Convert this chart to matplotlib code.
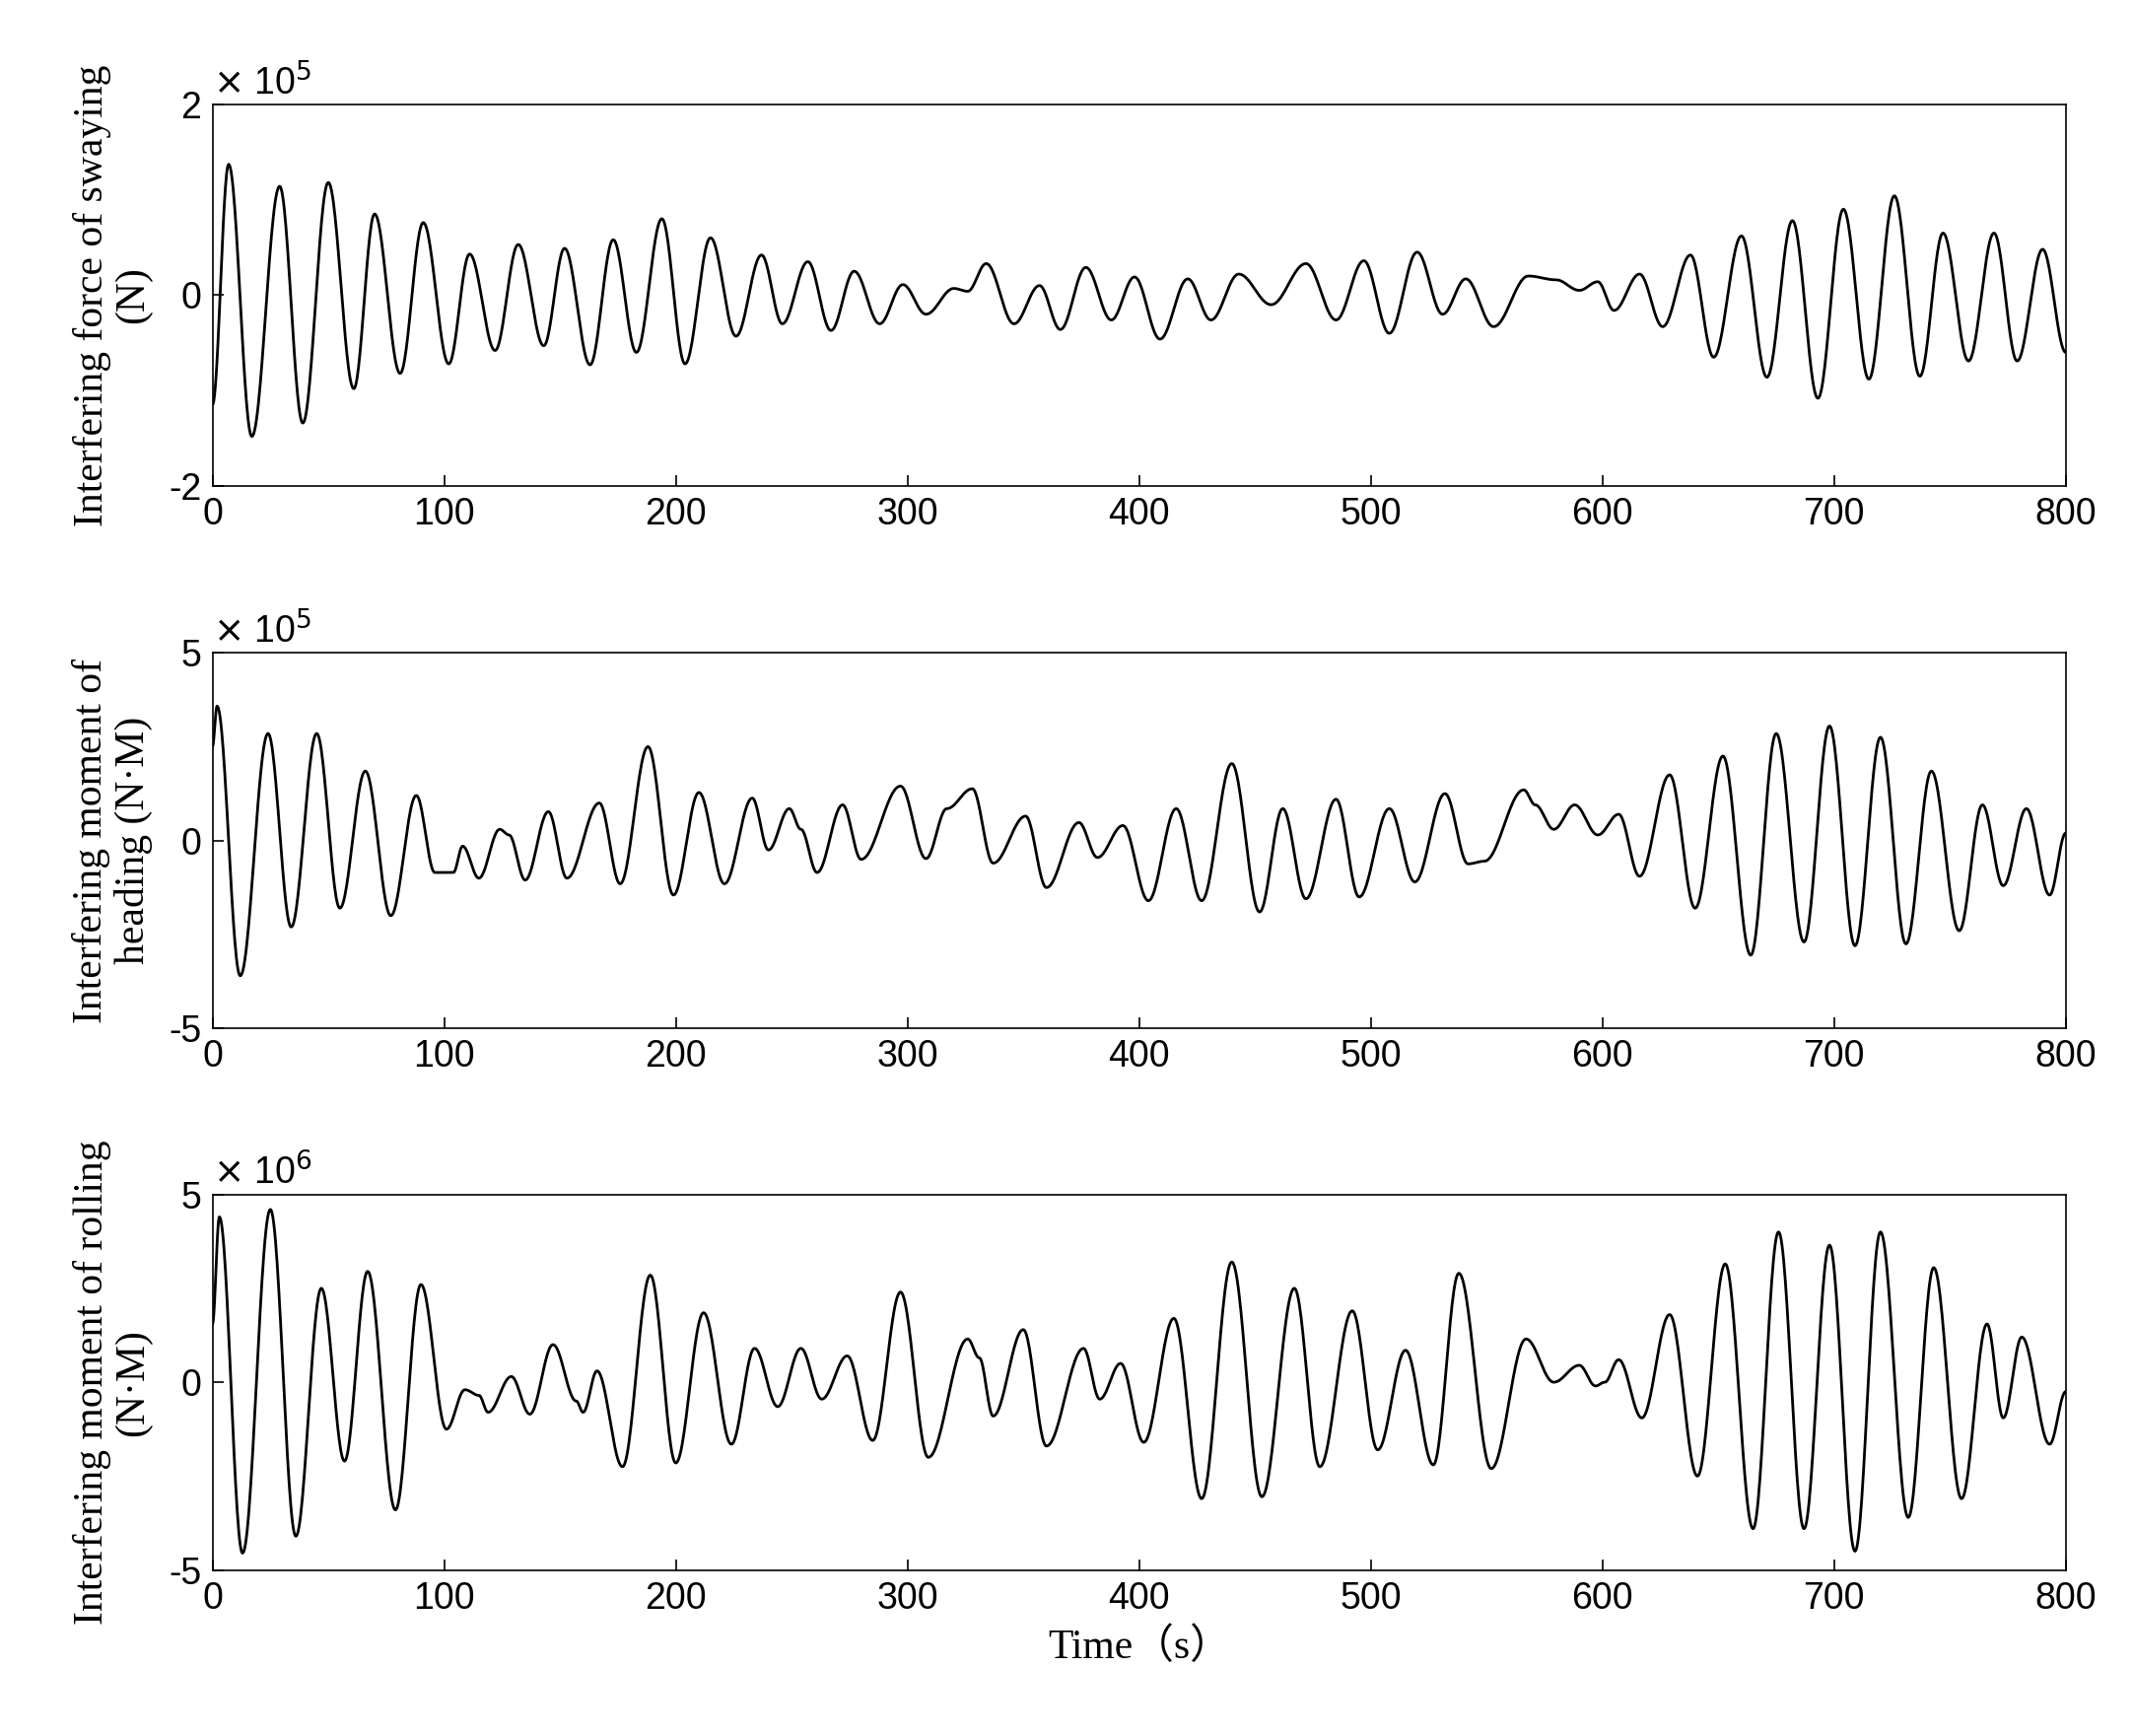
import numpy as np
import matplotlib.pyplot as plt

plt.rcParams['axes.unicode_minus'] = False

# extrema: (time s, value in scaled units)
sway_t = [0, 7, 17, 29, 39, 50, 61, 70, 81, 91, 102, 111, 122, 132, 143, 152, 163, 173, 183, 194, 204,
          215, 226, 237, 246, 257, 267, 277, 288, 298, 308, 320, 326, 334, 346, 357, 366, 377, 388, 398,
          409, 421, 431, 443, 457, 472, 485, 497, 508, 520, 531, 541, 553, 568, 580, 590, 598, 605, 616,
          626, 638, 648, 660, 671, 682, 693, 704, 715, 726, 737, 747, 758, 769, 779, 790, 800]
sway_v = [-1.15, 1.37, -1.48, 1.14, -1.34, 1.18, -0.98, 0.85, -0.82, 0.76, -0.72, 0.43, -0.58, 0.53, -0.53,
          0.49, -0.73, 0.58, -0.60, 0.80, -0.72, 0.60, -0.43, 0.42, -0.30, 0.35, -0.37, 0.25, -0.30, 0.11,
          -0.20, 0.07, 0.04, 0.33, -0.30, 0.10, -0.36, 0.29, -0.26, 0.19, -0.46, 0.17, -0.26, 0.22, -0.10,
          0.33, -0.26, 0.36, -0.40, 0.45, -0.20, 0.17, -0.33, 0.20, 0.16, 0.05, 0.14, -0.16, 0.22, -0.33,
          0.42, -0.65, 0.62, -0.86, 0.78, -1.08, 0.90, -0.88, 1.04, -0.85, 0.65, -0.69, 0.65, -0.69, 0.48,
          -0.60]

head_t = [0, 2, 12, 24, 34, 45, 55, 66, 77, 88, 96, 104, 108, 115, 124, 128, 135, 145, 153, 167, 176, 188,
          199, 210, 221, 233, 240, 249, 254, 261, 272, 280, 297, 308, 317, 328, 337, 351, 360, 374, 382,
          393, 404, 416, 427, 440, 452, 462, 472, 485, 495, 508, 519, 532, 542, 549, 566, 571, 579, 588,
          598, 607, 616, 629, 640, 652, 664, 675, 687, 698, 709, 720, 731, 742, 754, 764, 773, 783, 793, 800]
head_v = [2.5, 3.58, -3.6, 2.85, -2.3, 2.85, -1.8, 1.85, -2.0, 1.2, -0.85, -0.85, -0.15, -1.0, 0.3, 0.15,
          -1.05, 0.77, -1.0, 1.0, -1.15, 2.5, -1.45, 1.28, -1.15, 1.13, -0.25, 0.85, 0.3, -0.85, 0.95, -0.5,
          1.45, -0.48, 0.85, 1.38, -0.6, 0.65, -1.25, 0.48, -0.45, 0.4, -1.6, 0.85, -1.6, 2.05, -1.9, 0.85,
          -1.55, 1.1, -1.5, 0.85, -1.1, 1.25, -0.62, -0.55, 1.35, 0.95, 0.3, 0.95, 0.15, 0.7, -0.95, 1.75,
          -1.8, 2.25, -3.05, 2.85, -2.7, 3.05, -2.8, 2.75, -2.75, 1.85, -2.4, 0.95, -1.2, 0.85, -1.45, 0.2]

roll_t = [0, 3, 13, 25, 36, 47, 57, 67, 79, 90, 101, 109, 115, 119, 129, 137, 147, 157, 160, 166, 177, 189,
          200, 212, 224, 234, 244, 254, 263, 274, 285, 297, 309, 326, 331, 337, 350, 360, 376, 383, 392,
          402, 415, 427, 440, 453, 467, 478, 492, 503, 515, 527, 538, 552, 567, 579, 590, 597, 601, 607,
          617, 629, 641, 653, 665, 676, 687, 698, 709, 720, 732, 743, 755, 766, 773, 781, 793, 800]
roll_v = [1.55, 4.4, -4.55, 4.6, -4.1, 2.5, -2.1, 2.95, -3.4, 2.6, -1.25, -0.2, -0.35, -0.8, 0.15, -0.85,
          1.0, -0.5, -0.8, 0.3, -2.25, 2.85, -2.15, 1.85, -1.65, 0.9, -0.65, 0.9, -0.45, 0.7, -1.55, 2.4,
          -2.0, 1.15, 0.65, -0.9, 1.4, -1.7, 0.9, -0.45, 0.5, -1.6, 1.7, -3.1, 3.2, -3.05, 2.5, -2.25, 1.9,
          -1.8, 0.85, -2.2, 2.9, -2.3, 1.15, 0.0, 0.45, -0.1, 0.0, 0.6, -0.95, 1.8, -2.5, 3.15, -3.9, 4.0,
          -3.9, 3.65, -4.5, 4.0, -3.6, 3.05, -3.1, 1.55, -0.95, 1.2, -1.65, -0.25]


def smooth(t, v, n=30):
    # half-cosine joins between consecutive extrema
    xs, ys = [], []
    for i in range(len(t) - 1):
        s = np.linspace(0, 1, n, endpoint=False)
        w = (1 - np.cos(np.pi * s)) / 2
        xs.append(t[i] + (t[i + 1] - t[i]) * s)
        ys.append(v[i] + (v[i + 1] - v[i]) * w)
    xs.append([t[-1]])
    ys.append([v[-1]])
    return np.concatenate(xs), np.concatenate(ys)


panels = [
    (sway_t, sway_v, 2, 5, 'Interfering force of swaying\n(N)', [0.940, 0.720]),
    (head_t, head_v, 5, 5, 'Interfering moment of\nheading (N·M)', [0.624, 0.4076]),
    (roll_t, roll_v, 5, 6, 'Interfering moment of rolling\n(N·M)', [0.312, 0.0956]),
]

serif = ['Liberation Serif', 'Noto Sans CJK SC']
fig = plt.figure(figsize=(21.64, 17.61), dpi=100)
for t, v, lim, exp, label, (top, bot) in panels:
    ax = fig.add_axes([0.0996, bot, 0.9685 - 0.0996, top - bot])
    x, y = smooth(t, v)
    ax.plot(x, y, color='black', lw=2)
    ax.set_xlim(0, 800)
    ax.set_ylim(-lim, lim)
    ax.set_xticks(range(0, 801, 100))
    ax.set_yticks([-lim, 0, lim])
    ax.tick_params(direction='in', labelsize=27, length=8, width=1.2, pad=8)
    for lab in ax.get_xticklabels() + ax.get_yticklabels():
        lab.set_family('Liberation Sans')
    for sp in ax.spines.values():
        sp.set_linewidth(1.2)
    ax.text(0.0, 1.005, r'$\times$ 10$^{%d}$' % exp, transform=ax.transAxes, fontsize=27,
            family='Liberation Sans', va='bottom', ha='left')
    ax.set_ylabel(label, fontsize=30, family=serif, linespacing=1.1, labelpad=12)
ax.set_xlabel('Time（s）', fontsize=30, family=serif, labelpad=8)
fig.savefig('out.png')
